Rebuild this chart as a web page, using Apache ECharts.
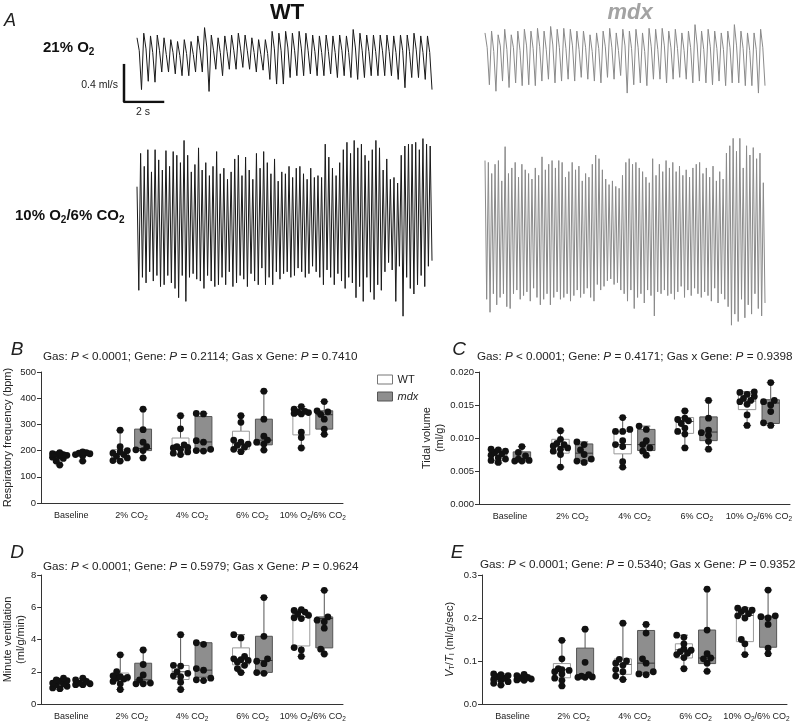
<!DOCTYPE html>
<html><head><meta charset="utf-8">
<script src="https://cdn.jsdelivr.net/npm/echarts/dist/echarts.min.js"></script>
<style>html,body{margin:0;padding:0;background:#fff}#c{width:800px;height:723px}</style>
</head><body><div id="c"></div>
<script>
// ---------- Panel A: airflow traces (ml/s), per breath: peak, mid-plateau (21% only), trough ----------
const wt21Peaks = [0.24,0.29,0.26,0.27,0.24,0.22,0.20,0.22,0.20,0.26,0.35,0.27,0.24,0.26,0.27,0.29,0.27,0.24,0.22,0.22,0.31,0.29,0.31,0.29,0.31,0.29,0.27,0.26,0.27,0.26,0.27,0.26,0.33,0.29,0.27,0.27,0.27,0.27,0.26,0.27,0.27,0.29,0.26,0.26];
const wt21Mid = [0.10,0.12,0.08,0.10,0.06,0.08,0.05,0.07,0.06,0.10,0.14,0.10,0.08,0.09,0.10,0.12,0.10,0.08,0.06,0.07,0.12,0.10,0.13,0.10,0.12,0.10,0.09,0.08,0.09,0.08,0.10,0.08,0.13,0.10,0.09,0.09,0.10,0.09,0.08,0.10,0.09,0.11,0.08,0.08];
const wt21Troughs = [-0.32,-0.23,-0.24,-0.13,-0.13,-0.15,-0.17,-0.17,-0.13,-0.13,-0.34,-0.10,-0.17,-0.10,-0.10,-0.08,-0.10,-0.13,-0.11,-0.21,-0.26,-0.26,-0.19,-0.17,-0.17,-0.15,-0.17,-0.17,-0.15,-0.19,-0.17,-0.19,-0.21,-0.19,-0.17,-0.17,-0.17,-0.17,-0.21,-0.30,-0.19,-0.19,-0.21,-0.32];
const mdx21Peaks = [0.26,0.28,0.24,0.30,0.24,0.28,0.30,0.28,0.31,0.28,0.33,0.30,0.31,0.30,0.28,0.28,0.24,0.26,0.28,0.31,0.26,0.30,0.28,0.30,0.26,0.31,0.30,0.31,0.28,0.30,0.26,0.28,0.35,0.28,0.30,0.28,0.26,0.28,0.35,0.28,0.26,0.26,0.30];
const mdx21Mid = [0.10,0.06,0.12,0.08,0.10,0.07,0.12,0.09,0.11,0.08,0.13,0.10,0.09,0.12,0.08,0.10,0.06,0.09,0.11,0.10,0.07,0.12,0.09,0.10,0.06,0.11,0.08,0.12,0.10,0.09,0.07,0.10,0.13,0.08,0.11,0.09,0.08,0.10,0.12,0.09,0.07,0.08,0.10];
const mdx21Troughs = [-0.30,-0.37,-0.26,-0.33,-0.28,-0.31,-0.30,-0.31,-0.26,-0.24,-0.28,-0.26,-0.24,-0.26,-0.22,-0.24,-0.26,-0.28,-0.22,-0.24,-0.20,-0.39,-0.30,-0.28,-0.31,-0.24,-0.24,-0.28,-0.24,-0.22,-0.24,-0.28,-0.26,-0.28,-0.30,-0.26,-0.31,-0.28,-0.28,-0.31,-0.31,-0.39,-0.31];
const wtHcPeaks = [0.36,0.72,0.58,0.76,0.52,0.76,0.65,0.54,0.75, 0.58,0.74,0.70,0.62,0.86,0.70,0.52,0.60,0.78,0.54,0.62,0.48,0.58,0.74, 0.50,0.56,0.44,0.52,0.66,0.70,0.48,0.68,0.54,0.44,0.72,0.56,0.74,0.62,0.50,0.66,0.42,0.52, 0.50,0.58,0.46,0.56,0.58,0.50,0.44,0.56,0.46,0.48,0.46, 0.82,0.68,0.56,0.48,0.62,0.76,0.84,0.72,0.86,0.78,0.82,0.70,0.64,0.76,0.86,0.78, 0.54,0.66,0.44,0.46,0.40, 0.70,0.80,0.82,0.82,0.84,0.76,0.88,0.82,0.80];
const wtHcTroughs = [-0.76,-0.62,-0.68,-0.56,-0.66,-0.60,-0.72,-0.70,-0.60, -0.68,-0.74,-0.84,-0.60,-0.88,-0.62,-0.58,-0.64,-0.66,-0.74,-0.60,-0.66,-0.72,-0.70, -0.62,-0.70,-0.56,-0.72,-0.68,-0.60,-0.64,-0.72,-0.58,-0.66,-0.70,-0.52,-0.70,-0.62,-0.70,-0.56,-0.64,-0.58, -0.56,-0.62,-0.60,-0.52,-0.56,-0.62,-0.58,-0.50,-0.56,-0.62,-0.70, -0.54,-0.62,-0.70,-0.58,-0.66,-0.74,-0.62,-0.68,-0.84,-0.72,-0.88,-0.62,-0.78,-0.86,-0.70,-0.76, -0.56,-0.46,-0.54,-0.88,-0.50, -1.04,-0.62,-0.74,-0.80,-0.70,-0.60,-0.72,-0.50,-0.44];
const mdxHcPeaks = [0.74,0.72,0.60,0.70,0.74,0.52,0.89,0.60,0.66,0.72,0.56,0.70,0.64,0.60,0.54,0.66,0.58, 0.78,0.64,0.70,0.74,0.66,0.74,0.72,0.56,0.62,0.72,0.64,0.68, 0.52,0.60,0.56,0.70,0.80,0.76,0.64,0.54,0.48,0.52,0.46,0.44, 0.58,0.72,0.76,0.70,0.72,0.66,0.62,0.56,0.50,0.76,0.58,0.70,0.62,0.74, 0.66,0.72,0.62,0.68,0.58,0.64,0.56,0.66,0.70,0.72,0.60,0.66,0.56,0.68,0.52,0.62,0.54, 0.82,0.90,0.98,0.84,0.98,0.66,0.90,0.80,0.88,0.76,0.82,0.50];
const mdxHcTroughs = [-0.76,-0.90,-0.70,-0.82,-0.74,-0.70,-0.84,-0.86,-0.70,-0.66,-0.76,-0.72,-0.68,-0.78,-0.64,-0.74,-0.82, -0.76,-0.70,-0.82,-0.74,-0.68,-0.76,-0.74,-0.70,-0.78,-0.72,-0.66,-0.74, -0.70,-0.64,-0.74,-0.78,-0.60,-0.66,-0.62,-0.56,-0.54,-0.60,-0.58,-0.66, -0.70,-0.78,-0.66,-0.86,-0.74,-0.70,-0.80,-0.66,-0.72,-0.94,-0.68,-0.70,-0.66,-0.72, -0.70,-0.76,-0.68,-0.62,-0.74,-0.66,-0.72,-0.64,-0.70,-0.74,-0.68,-0.72,-0.78,-0.64,-0.80,-0.70,-0.76, -0.84,-1.04,-0.92,-1.00,-0.76,-0.96,-0.82,-0.92,-0.70,-0.86,-0.94,-0.80];
const scaleBarSeconds = 2;
const scaleBarFlow = 0.4;

// ---------- Panels B-E ----------
const categories = ['Baseline','2% CO{s|2}','4% CO{s|2}','6% CO{s|2}','10% O{s|2}/6% CO{s|2}'];
// box stats: [min, Q1, median, Q3, max]
const freqWTBox = [[145,172,181,188,195],[160,169,188,204,278],[185,203,213,248,333],[196,205,226,274,333],[210,260,342,352,368]];
const freqMdxBox = [[160,180,188,192,197],[172,200,208,282,358],[197,200,233,330,342],[202,222,240,320,427],[262,282,337,352,387]];
const freqWTPts = [[145,160,170,175,180,182,185,185,188,192],[160,162,172,178,185,190,195,200,215,278],[185,190,195,205,210,212,215,222,283,333],[196,205,213,220,225,232,240,308,333],[210,250,270,340,342,345,348,350,358,368]];
const freqMdxPts = [[160,180,185,188,190,192,195],[172,200,203,215,232,280,358],[198,200,205,232,238,340,342],[202,225,232,240,255,320,427],[262,282,320,338,348,352,387]];

const tvWTBox = [[0.0062,0.0066,0.0074,0.0082,0.0083],[0.0056,0.0077,0.0087,0.0098,0.0111],[0.0055,0.0076,0.0090,0.0110,0.0131],[0.0085,0.0107,0.0125,0.0131,0.0141],[0.0119,0.0143,0.0156,0.0168,0.0170]];
const tvMdxBox = [[0.0064,0.0066,0.0068,0.0079,0.0087],[0.0062,0.0065,0.0077,0.0091,0.0094],[0.0073,0.0081,0.0090,0.0113,0.0118],[0.0083,0.0096,0.0109,0.0132,0.0157],[0.0119,0.0122,0.0153,0.0158,0.0184]];
const tvWTPts = [[0.0063,0.0066,0.0068,0.0070,0.0074,0.0076,0.0078,0.0080,0.0082,0.0083],[0.0056,0.0075,0.0080,0.0083,0.0085,0.0088,0.0090,0.0092,0.0098,0.0111],[0.0056,0.0064,0.0087,0.0090,0.0096,0.0110,0.0110,0.0113,0.0131],[0.0085,0.0106,0.0110,0.0115,0.0122,0.0126,0.0128,0.0130,0.0141],[0.0119,0.0135,0.0151,0.0155,0.0157,0.0160,0.0163,0.0166,0.0169,0.0170]];
const tvMdxPts = [[0.0065,0.0065,0.0066,0.0068,0.0073,0.0078,0.0087],[0.0063,0.0065,0.0068,0.0075,0.0082,0.0090,0.0094],[0.0074,0.0080,0.0085,0.0090,0.0096,0.0113,0.0118],[0.0083,0.0095,0.0104,0.0108,0.0112,0.0130,0.0157],[0.0119,0.0123,0.0140,0.0150,0.0155,0.0157,0.0184]];

const mvWTBox = [[0.92,1.05,1.3,1.45,1.6],[0.9,1.42,1.6,1.92,3.05],[0.9,1.52,2.0,2.39,4.3],[1.95,2.43,2.8,3.48,4.3],[2.95,3.6,5.36,5.71,5.85]];
const mvMdxBox = [[1.18,1.2,1.28,1.45,1.6],[1.25,1.32,1.5,2.53,3.35],[1.45,1.66,2.1,3.8,3.8],[1.9,1.96,2.7,4.2,6.6],[3.1,3.48,5.3,5.4,7.05]];
const mvWTPts = [[0.95,1.0,1.1,1.2,1.25,1.3,1.4,1.45,1.5,1.6],[0.9,1.25,1.4,1.55,1.6,1.65,1.7,1.75,2.0,3.05],[0.9,1.35,1.7,1.75,1.9,2.0,2.35,2.4,4.3],[1.95,2.2,2.4,2.6,2.7,2.75,2.8,2.95,4.1,4.3],[2.95,3.35,3.5,5.3,5.35,5.5,5.6,5.7,5.8,5.85]];
const mvMdxPts = [[1.2,1.2,1.25,1.3,1.4,1.5,1.6],[1.25,1.25,1.3,1.5,1.8,2.45,3.35],[1.45,1.5,1.6,2.1,2.2,3.7,3.8],[1.9,1.95,2.5,2.65,2.8,4.2,6.6],[3.1,3.4,4.7,5.1,5.2,5.4,7.05]];

const vtWTBox = [[0.044,0.052,0.058,0.066,0.070],[0.042,0.061,0.080,0.094,0.148],[0.057,0.069,0.092,0.105,0.188],[0.082,0.107,0.126,0.140,0.160],[0.115,0.145,0.206,0.224,0.224]];
const vtMdxBox = [[0.054,0.055,0.058,0.065,0.069],[0.062,0.063,0.065,0.130,0.174],[0.068,0.072,0.095,0.171,0.185],[0.076,0.094,0.107,0.172,0.267],[0.117,0.132,0.202,0.204,0.265]];
const vtWTPts = [[0.044,0.048,0.052,0.055,0.057,0.060,0.063,0.066,0.068,0.070],[0.042,0.055,0.060,0.070,0.075,0.078,0.080,0.082,0.105,0.148],[0.057,0.065,0.075,0.080,0.090,0.095,0.100,0.104,0.188],[0.082,0.108,0.115,0.118,0.122,0.125,0.128,0.140,0.155,0.160],[0.115,0.140,0.150,0.200,0.205,0.210,0.215,0.218,0.220,0.223]];
const vtMdxPts = [[0.055,0.056,0.058,0.060,0.062,0.066,0.069],[0.062,0.062,0.063,0.065,0.068,0.097,0.174],[0.068,0.070,0.075,0.095,0.105,0.165,0.185],[0.076,0.095,0.105,0.107,0.117,0.172,0.267],[0.117,0.130,0.185,0.200,0.203,0.205,0.265]];

const statsB = 'Gas: {i|P} < 0.0001; Gene: {i|P} = 0.2114; Gas x Gene: {i|P} = 0.7410';
const statsC = 'Gas: {i|P} < 0.0001; Gene: {i|P} = 0.4171; Gas x Gene: {i|P} = 0.9398';
const statsD = 'Gas: {i|P} < 0.0001; Gene: {i|P} = 0.5979; Gas x Gene: {i|P} = 0.9624';
const statsE = 'Gas: {i|P} < 0.0001; Gene: {i|P} = 0.5340; Gas x Gene: {i|P} = 0.9352';

// ---------- build ----------
const FF = "'Liberation Sans', Arial, Helvetica, sans-serif";
const chart = echarts.init(document.getElementById('c'), null, {renderer: 'canvas'});

function interleave() {
  const arrs = Array.prototype.slice.call(arguments), o = [];
  for (let i = 0; i < arrs[0].length; i++) arrs.forEach(a => o.push(a[i]));
  return o;
}

const scaleGrid = {left: 124, top: 65, width: 39, height: 37};
const ppu = scaleGrid.height / scaleBarFlow; // px per ml/s
const traces = [
  {grid: {left: 137, width: 295, top: 20, height: 80}, data: interleave(wt21Peaks, wt21Mid, wt21Troughs), color: '#1a1a1a'},
  {grid: {left: 485, width: 280, top: 17, height: 80}, data: interleave(mdx21Peaks, mdx21Mid, mdx21Troughs), color: '#8a8a8a'},
  {grid: {left: 137, width: 295, top: 100, height: 240}, data: interleave(wtHcPeaks, wtHcTroughs), color: '#1a1a1a'},
  {grid: {left: 485, width: 280, top: 109, height: 240}, data: interleave(mdxHcPeaks, mdxHcTroughs), color: '#8a8a8a'}
];

const grids = [], xAxes = [], yAxes = [], series = [];
traces.forEach((t, k) => {
  grids.push(t.grid);
  const half = t.grid.height / 2 / ppu;
  xAxes.push({type: 'category', gridIndex: k, show: false, boundaryGap: false, data: t.data.map((_, i) => i)});
  yAxes.push({type: 'value', gridIndex: k, show: false, min: -half, max: half});
  series.push({type: 'line', xAxisIndex: k, yAxisIndex: k, data: t.data, symbol: 'none', silent: true,
    lineStyle: {width: 1, color: t.color}, animation: false});
});
// scale bar
grids.push(scaleGrid);
xAxes.push({type: 'value', gridIndex: 4, show: false, min: 0, max: scaleBarSeconds});
yAxes.push({type: 'value', gridIndex: 4, show: false, min: 0, max: scaleBarFlow});
series.push({type: 'line', xAxisIndex: 4, yAxisIndex: 4, data: [[0, scaleBarFlow], [0, 0], [scaleBarSeconds, 0]],
  symbol: 'none', silent: true, lineStyle: {width: 2.5, color: '#111', cap: 'square'}, animation: false});

const styWT = {fill: '#ffffff', border: '#999999', line: '#555555', median: '#555555'};
const styMdx = {fill: '#8e8e8e', border: '#555555', line: '#555555', median: '#333333'};

function renderer(box, pts, side, sty) {
  return function (params, api) {
    const i = params.dataIndex;
    const b = box[i];
    const band = api.size([1, 0])[0];
    const cx = api.coord([i, b[2]])[0] + side * band * 0.19;
    const hw = band * 0.14;
    const y = v => api.coord([i, v])[1];
    const yMin = y(b[0]), yQ1 = y(b[1]), yMed = y(b[2]), yQ3 = y(b[3]), yMax = y(b[4]);
    const cap = 4;
    const ls = {stroke: sty.line, lineWidth: 1};
    const ch = [
      {type: 'line', shape: {x1: cx, y1: yMax, x2: cx, y2: yQ3}, style: ls},
      {type: 'line', shape: {x1: cx - cap, y1: yMax, x2: cx + cap, y2: yMax}, style: ls},
      {type: 'line', shape: {x1: cx, y1: yQ1, x2: cx, y2: yMin}, style: ls},
      {type: 'line', shape: {x1: cx - cap, y1: yMin, x2: cx + cap, y2: yMin}, style: ls},
      {type: 'rect', shape: {x: cx - hw, y: yQ3, width: 2 * hw, height: Math.max(yQ1 - yQ3, 0.5)}, style: {fill: sty.fill, stroke: sty.border, lineWidth: 1}},
      {type: 'line', shape: {x1: cx - hw, y1: yMed, x2: cx + hw, y2: yMed}, style: {stroke: sty.median, lineWidth: 1}}
    ];
    // compact beeswarm that keeps the dots within the box width
    const ys = pts[i].map(v => y(v)).sort((a, c) => c - a);
    const placed = [];
    const r = 3.4, step = 3.6;
    const cand = [0, -1, 1, -2, 2];
    ys.forEach(py => {
      let best = 0, bestD = -1;
      for (const k of cand) {
        const ox = k * step;
        const d = placed.length ? Math.min.apply(null, placed.map(p => Math.hypot(p[0] - ox, p[1] - py))) : 99;
        if (d >= 5) { best = ox; bestD = d; break; }
        if (d > bestD) { bestD = d; best = ox; }
      }
      placed.push([best, py]);
    });
    placed.forEach(p => ch.push({type: 'circle', shape: {cx: cx + p[0], cy: p[1], r: r}, style: {fill: '#111'}}));
    return {type: 'group', children: ch};
  };
}

const panels = [
  {grid: {left: 41, top: 372, width: 302, height: 131}, min: 0, max: 500, interval: 100, fmt: v => String(v),
   name: 'Respiratory frequency (bpm)', nameGap: 27, wb: freqWTBox, mb: freqMdxBox, wp: freqWTPts, mp: freqMdxPts},
  {grid: {left: 479, top: 372, width: 311, height: 132}, min: 0, max: 0.02, interval: 0.005, fmt: v => v.toFixed(3),
   name: 'Tidal volume\n(ml/g)', nameGap: 28, wb: tvWTBox, mb: tvMdxBox, wp: tvWTPts, mp: tvMdxPts},
  {grid: {left: 40, top: 575, width: 303, height: 132}, min: 0, max: 8, interval: 2, fmt: v => String(v),
   name: 'Minute ventilation\n(ml/g/min)', nameGap: 10, wb: mvWTBox, mb: mvMdxBox, wp: mvWTPts, mp: mvMdxPts},
  {grid: {left: 482, top: 575, width: 305, height: 132}, min: 0, max: 0.3, interval: 0.1, fmt: v => v.toFixed(1),
   name: '{it|V}{s|T}/{it|T}{s|I} (ml/g/sec)', nameGap: 26, wb: vtWTBox, mb: vtMdxBox, wp: vtWTPts, mp: vtMdxPts}
];

panels.forEach((p, j) => {
  const g = 5 + j;
  grids.push(p.grid);
  xAxes.push({type: 'category', gridIndex: g, data: categories,
    axisLine: {lineStyle: {color: '#333', width: 1}},
    axisTick: {alignWithLabel: true, length: 4, lineStyle: {color: '#333'}},
    axisLabel: {interval: 0, fontSize: 9, color: '#222', fontFamily: FF, margin: 7, lineHeight: 12,
      rich: {s: {fontSize: 6.5, fontFamily: FF, color: '#222', lineHeight: 6, verticalAlign: 'bottom'}}}
  });
  yAxes.push({type: 'value', gridIndex: g, min: p.min, max: p.max, interval: p.interval,
    axisLine: {show: true, lineStyle: {color: '#333', width: 1}},
    axisTick: {show: true, length: 4, lineStyle: {color: '#333'}},
    splitLine: {show: false},
    axisLabel: {fontSize: 9.5, color: '#222', fontFamily: FF, margin: 5, formatter: p.fmt},
    name: p.name, nameLocation: 'middle', nameGap: p.nameGap,
    nameTextStyle: {fontSize: 11, color: '#222', fontFamily: FF, lineHeight: 13,
      rich: {it: {fontSize: 11, fontStyle: 'italic', fontFamily: FF, color: '#222', lineHeight: 13},
             s: {fontSize: 7.5, fontFamily: FF, color: '#222', lineHeight: 7, verticalAlign: 'bottom'}}}
  });
  series.push({type: 'custom', name: 'WT', xAxisIndex: g, yAxisIndex: g, animation: false,
    data: categories.map((c, i) => [i, p.wb[i][4]]), encode: {x: 0, y: 1},
    itemStyle: {color: '#ffffff', borderColor: '#999'}, renderItem: renderer(p.wb, p.wp, -1, styWT)});
  series.push({type: 'custom', name: 'mdx', xAxisIndex: g, yAxisIndex: g, animation: false,
    data: categories.map((c, i) => [i, p.mb[i][4]]), encode: {x: 0, y: 1},
    itemStyle: {color: '#8e8e8e', borderColor: '#555'}, renderItem: renderer(p.mb, p.mp, 1, styMdx)});
});

function txt(x, y, text, o) {
  const st = Object.assign({text: text, fontFamily: FF, fontSize: 12, fill: '#222',
    align: 'left', verticalAlign: 'middle', textAlign: 'left', textVerticalAlign: 'middle'}, o || {});
  if (st.align) st.textAlign = st.align;
  return {type: 'text', x: x, y: y, silent: true, style: st};
}
const TS = 11.7;
const titleRich = {i: {fontStyle: 'italic', fontSize: TS, fontFamily: FF, fill: '#222'}};
const subBold = s => ({s: {fontSize: s, fontWeight: 'bold', fontFamily: FF, fill: '#111', lineHeight: 9, verticalAlign: 'bottom'}});

const graphics = [
  txt(10, 21, 'A', {fontSize: 18, fontStyle: 'italic', align: 'center', fill: '#222'}),
  txt(287, 13, 'WT', {fontSize: 22, fontWeight: 'bold', align: 'center', fill: '#111'}),
  txt(630, 13, 'mdx', {fontSize: 22, fontWeight: 'bold', fontStyle: 'italic', align: 'center', fill: '#a3a3a3'}),
  txt(43, 48, '21% O{s|2}', {fontSize: 15, fontWeight: 'bold', fill: '#111', lineHeight: 18, rich: subBold(10)}),
  txt(15, 216, '10% O{s|2}/6% CO{s|2}', {fontSize: 15, fontWeight: 'bold', fill: '#111', lineHeight: 18, rich: subBold(10)}),
  txt(118, 85, '0.4 ml/s', {fontSize: 10.5, align: 'right', fill: '#222'}),
  txt(143, 112, '2 s', {fontSize: 10.5, align: 'center', fill: '#222'}),
  txt(17, 350, 'B', {fontSize: 19, fontStyle: 'italic', align: 'center'}),
  txt(459, 350, 'C', {fontSize: 19, fontStyle: 'italic', align: 'center'}),
  txt(17, 553, 'D', {fontSize: 19, fontStyle: 'italic', align: 'center'}),
  txt(457, 553, 'E', {fontSize: 19, fontStyle: 'italic', align: 'center'}),
  txt(43, 357, statsB, {fontSize: TS, rich: titleRich}),
  txt(477, 357, statsC, {fontSize: TS, rich: titleRich}),
  txt(43, 567, statsD, {fontSize: TS, rich: titleRich}),
  txt(480, 565, statsE, {fontSize: TS, rich: titleRich})
];

chart.setOption({
  animation: false,
  backgroundColor: '#ffffff',
  grid: grids,
  xAxis: xAxes,
  yAxis: yAxes,
  series: series,
  legend: {left: 372, top: 369, orient: 'vertical', itemWidth: 15, itemHeight: 9, itemGap: 6, selectedMode: false,
    data: [{name: 'WT', icon: 'rect', itemStyle: {color: '#fff', borderColor: '#777', borderWidth: 1}},
           {name: 'mdx', icon: 'rect', itemStyle: {color: '#8e8e8e', borderColor: '#555', borderWidth: 1}}],
    formatter: n => n === 'mdx' ? '{i|mdx}' : n,
    textStyle: {fontSize: 11, color: '#222', fontFamily: FF, rich: {i: {fontStyle: 'italic', fontSize: 11, fontFamily: FF, color: '#222'}}}},
  graphic: graphics
});
</script></body></html>
